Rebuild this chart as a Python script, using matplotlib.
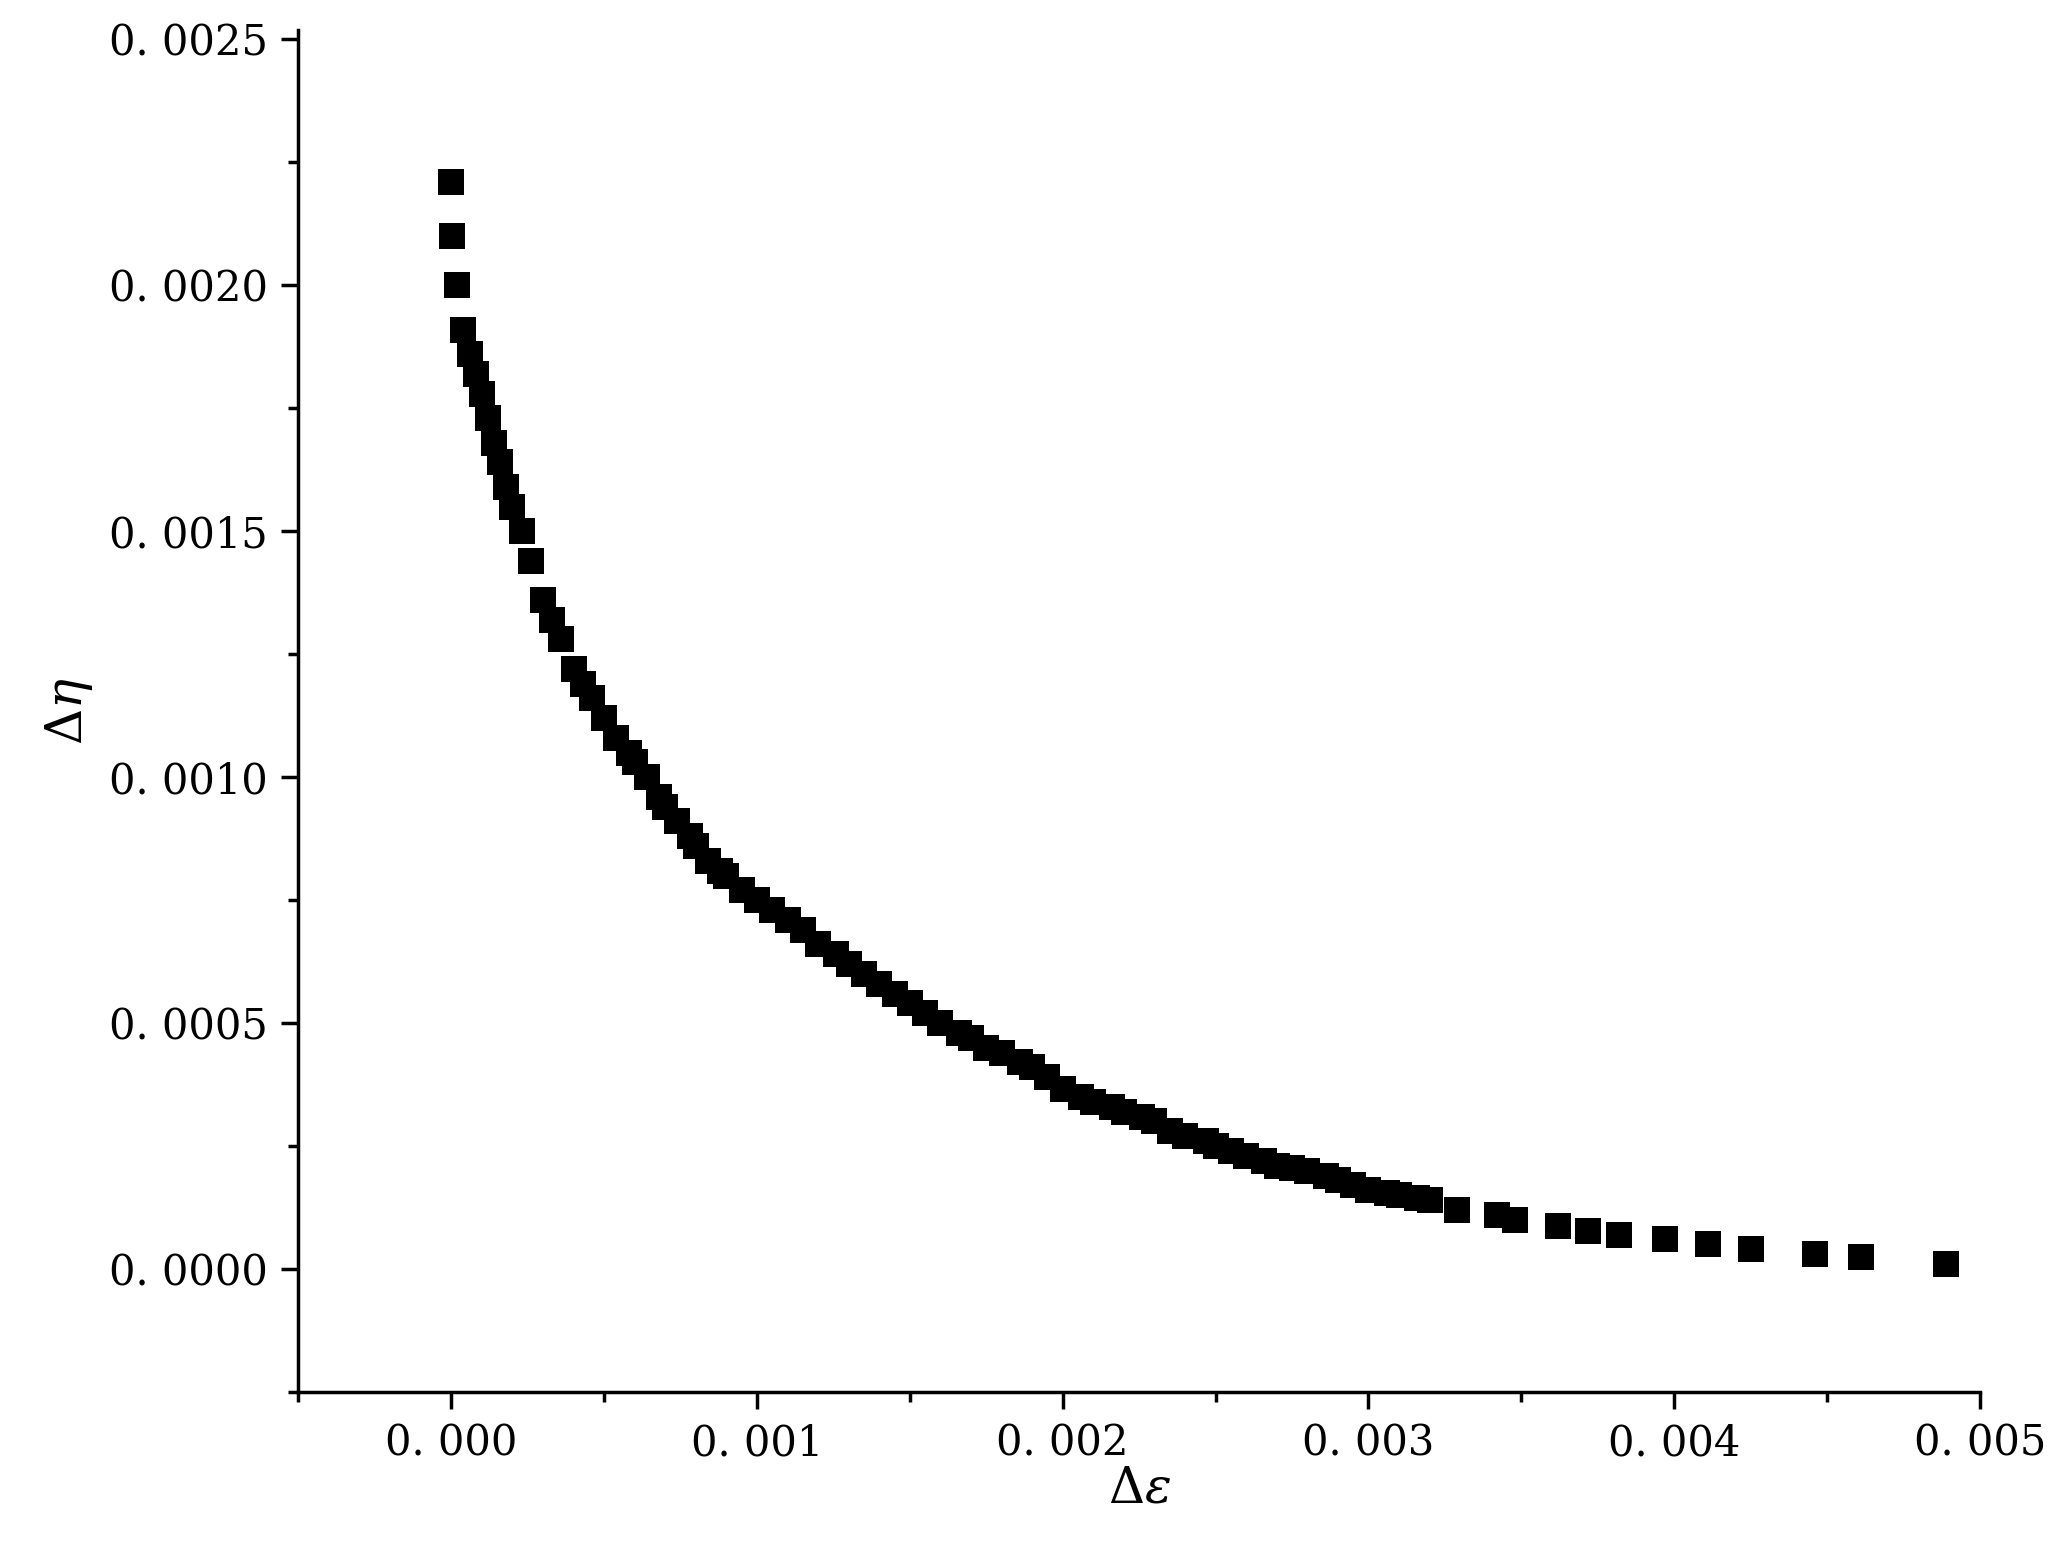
import matplotlib.pyplot as plt
import numpy as np

# values (x = delta epsilon, y = delta eta)
d_eps = [0.0, 0.000004, 0.00002, 0.00004, 0.00006, 0.00008, 0.0001, 0.00012, 0.00014,
         0.00016, 0.00018, 0.0002, 0.00023, 0.00026, 0.0003, 0.00033, 0.00036, 0.0004,
         0.00043, 0.00046, 0.0005, 0.00054, 0.00058, 0.0006, 0.00064, 0.00068, 0.0007,
         0.00074, 0.00078, 0.0008, 0.00084, 0.00088, 0.0009, 0.00095, 0.001, 0.00105,
         0.0011, 0.00115, 0.0012, 0.00126, 0.0013, 0.00135, 0.0014, 0.00145, 0.0015,
         0.00155, 0.0016, 0.00166, 0.0017, 0.00175, 0.0018, 0.00186, 0.0019, 0.00195,
         0.002, 0.00206, 0.0021, 0.00216, 0.0022, 0.00226, 0.0023, 0.00235, 0.0024,
         0.00247, 0.0025, 0.00255, 0.0026, 0.00266, 0.0027, 0.00275, 0.0028, 0.00286,
         0.0029, 0.00295, 0.003, 0.00306, 0.0031, 0.00316, 0.0032, 0.00329,
         0.00342, 0.00348, 0.00362, 0.00372, 0.00382, 0.00397, 0.00411, 0.00425,
         0.00446, 0.00461, 0.00489]
d_eta = [0.00221, 0.0021, 0.0020, 0.00191, 0.00186, 0.00182, 0.00178, 0.00173, 0.00168,
         0.00164, 0.00159, 0.00155, 0.0015, 0.00144, 0.00136, 0.00132, 0.00128, 0.00122,
         0.00119, 0.00116, 0.00112, 0.00108, 0.00105, 0.00103, 0.001, 0.00096, 0.00094,
         0.00091, 0.00088, 0.00086, 0.00083, 0.00081, 0.0008, 0.00077, 0.00075, 0.00073,
         0.00071, 0.00069, 0.00066, 0.00064, 0.00062, 0.0006, 0.00058, 0.00056, 0.00054,
         0.00052, 0.0005, 0.00048, 0.00047, 0.00045, 0.00044, 0.00042, 0.00041, 0.00039,
         0.000365, 0.00035, 0.00034, 0.00033, 0.00032, 0.00031, 0.0003, 0.00028, 0.00027,
         0.00026, 0.00025, 0.00024, 0.00023, 0.00022, 0.00021, 0.000205, 0.0002, 0.00019,
         0.00018, 0.00017, 0.00016, 0.000155, 0.00015, 0.000145, 0.00014, 0.00012,
         0.00011, 0.0001, 0.000088, 0.000077, 0.00007, 0.00006, 0.00005, 0.00004,
         0.00003, 0.000024, 0.00001]

x_ticks = [0.0, 0.001, 0.002, 0.003, 0.004, 0.005]
x_labels = ['0. 000', '0. 001', '0. 002', '0. 003', '0. 004', '0. 005']
y_ticks = [0.0, 0.0005, 0.001, 0.0015, 0.002, 0.0025]
y_labels = ['0. 0000', '0. 0005', '0. 0010', '0. 0015', '0. 0020', '0. 0025']

plt.rcParams['font.family'] = 'DejaVu Serif'
plt.rcParams['mathtext.fontset'] = 'dejavuserif'

fig = plt.figure(figsize=(20.58, 15.57), dpi=100)
ax = fig.add_axes([0.145, 0.106, 0.817, 0.875])
ax.scatter(d_eps, d_eta, marker='s', s=330, color='black', linewidths=0)

ax.set_xlim(-0.0005, 0.005)
ax.set_ylim(-0.00025, 0.00252)
ax.set_xticks(x_ticks)
ax.set_xticklabels(x_labels)
ax.set_yticks(y_ticks)
ax.set_yticklabels(y_labels)
ax.set_xticks(np.arange(-0.0005, 0.00501, 0.0005), minor=True)
ax.set_yticks(np.arange(-0.00025, 0.00251, 0.00025), minor=True)
ax.tick_params(which='major', direction='out', length=12, width=2.5, labelsize=30, pad=10)
ax.tick_params(which='minor', direction='out', length=7, width=2.5)

for side in ['top', 'right']:
    ax.spines[side].set_visible(False)
for side in ['left', 'bottom']:
    ax.spines[side].set_linewidth(2.5)

ax.set_xlabel(r'$\Delta\varepsilon$', fontsize=36, labelpad=0)
ax.set_ylabel(r'$\Delta\eta$', fontsize=36, labelpad=10)

plt.savefig('out.png')
